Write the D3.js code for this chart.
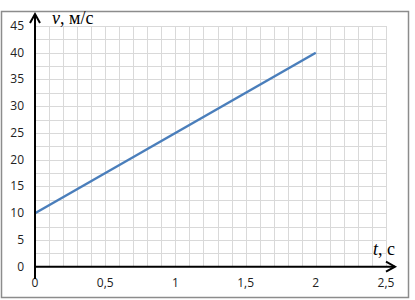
<!DOCTYPE html>
<html>
<head>
<meta charset="utf-8">
<script src="https://cdn.jsdelivr.net/npm/d3@7"></script>
<style>
  body { margin: 0; background: #fff; }
  svg { display: block; }
</style>
</head>
<body>
<div id="chart"></div>
<script>
// chart data
const timeValues = [0, 2];
const speedValues = [10, 40];
const xTicks = [0, 0.5, 1, 1.5, 2, 2.5];
const yTicks = [0, 5, 10, 15, 20, 25, 30, 35, 40, 45];
const yAxisLabel = ["v", ", м/с"];
const xAxisLabel = ["t", ", c"];

const width = 415, height = 300;
const svg = d3.select("#chart").append("svg")
    .attr("width", width)
    .attr("height", height);

// outer frame
svg.append("rect")
    .attr("x", 1.5).attr("y", 11.5)
    .attr("width", 407).attr("height", 286)
    .attr("fill", "#fff")
    .attr("stroke", "#8c8c8c")
    .attr("stroke-width", 1.5);

const x = d3.scaleLinear().domain([0, 2.5]).range([35, 386]);
const y = d3.scaleLinear().domain([0, 45]).range([266.7, 26]);

// grid: every 0.1 s and every 2.5 m/s
const grid = svg.append("g").attr("stroke", "#d9d9d9").attr("stroke-width", 1);
grid.selectAll(".vx").data(d3.range(1, 26).map(i => i / 10))
    .join("line")
    .attr("x1", d => Math.round(x(d)) + 0.5).attr("x2", d => Math.round(x(d)) + 0.5)
    .attr("y1", y(45)).attr("y2", y(0));
grid.selectAll(".hy").data(d3.range(1, 19).map(i => i * 2.5))
    .join("line")
    .attr("x1", x(0)).attr("x2", x(2.5))
    .attr("y1", d => Math.round(y(d)) + 0.5).attr("y2", d => Math.round(y(d)) + 0.5);

// tick labels
const fmt = d => String(d).replace(".", ",");
svg.append("g").selectAll("text").data(yTicks).join("text")
    .attr("x", 24).attr("y", d => y(d) + 4)
    .attr("text-anchor", "end")
    .attr("font-family", "Open Sans, sans-serif")
    .attr("font-size", 12)
    .attr("fill", "#222")
    .text(d => d);
svg.append("g").selectAll("text").data(xTicks).join("text")
    .attr("x", d => x(d)).attr("y", 287)
    .attr("text-anchor", "middle")
    .attr("font-family", "Open Sans, sans-serif")
    .attr("font-size", 12)
    .attr("fill", "#222")
    .text(fmt);

// data line
const line = d3.line().x((d, i) => x(timeValues[i])).y(d => y(d));
svg.append("path")
    .datum(speedValues)
    .attr("fill", "none")
    .attr("stroke", "#4a7ebb")
    .attr("stroke-width", 2.5)
    .attr("d", line);

// axes with arrows
const axes = svg.append("g").attr("stroke", "#000").attr("stroke-width", 2).attr("fill", "none");
axes.append("line").attr("x1", x(0)).attr("x2", x(0)).attr("y1", 279).attr("y2", 14);
axes.append("path").attr("d", `M${x(0) - 5},${23} L${x(0)},${14} L${x(0) + 5},${23}`);
axes.append("line").attr("x1", x(0)).attr("x2", 395).attr("y1", y(0)).attr("y2", y(0));
axes.append("path").attr("d", `M386,${y(0) - 5} L395,${y(0)} L386,${y(0) + 5}`);

// axis titles
const yt = svg.append("text").attr("x", 52).attr("y", 24)
    .attr("font-family", "Liberation Serif, serif").attr("font-size", 18).attr("fill", "#000");
yt.append("tspan").attr("font-style", "italic").text(yAxisLabel[0]);
yt.append("tspan").text(yAxisLabel[1]);
const xt = svg.append("text").attr("x", 373).attr("y", 255)
    .attr("font-family", "Liberation Serif, serif").attr("font-size", 18).attr("fill", "#000");
xt.append("tspan").attr("font-style", "italic").text(xAxisLabel[0]);
xt.append("tspan").text(xAxisLabel[1]);
</script>
</body>
</html>
